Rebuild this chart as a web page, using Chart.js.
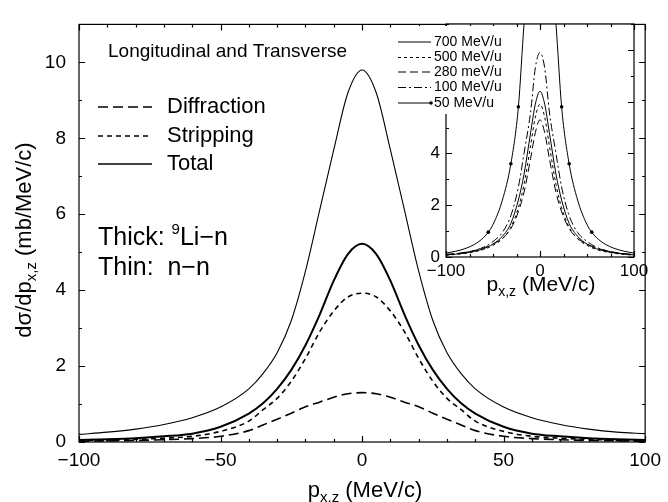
<!DOCTYPE html>
<html>
<head>
<meta charset="utf-8">
<script src="https://cdn.jsdelivr.net/npm/chart.js@4.4.1/dist/chart.umd.min.js"></script>
<style>
  html, body { margin: 0; padding: 0; background: #fff; }
  #wrap { position: relative; width: 668px; height: 502px; }
  #main { position: absolute; left: 0; top: 0; }
  #inset { position: absolute; left: 380px; top: 0; }
</style>
</head>
<body>
<div id="wrap">
  <canvas id="main" width="668" height="502"></canvas>
  <canvas id="inset" width="288" height="300"></canvas>
</div>
<script>
// main plot: p (MeV/c) and cross sections (mb/MeV/c)
const pMain = [-100, -90, -80, -70, -60, -50, -40, -35, -30, -25, -20, -15, -10, -5, 0,
               5, 10, 15, 20, 25, 30, 35, 40, 50, 60, 70, 80, 90, 100];
const totalThin = [0.20, 0.26, 0.34, 0.46, 0.64, 0.92, 1.40, 1.80, 2.35, 3.20, 4.50, 6.10, 7.70, 9.20, 9.80,
                   9.20, 7.70, 6.10, 4.50, 3.20, 2.35, 1.80, 1.40, 0.92, 0.64, 0.46, 0.34, 0.26, 0.22];
const totalThick = [0.05, 0.07, 0.10, 0.15, 0.22, 0.40, 0.75, 1.02, 1.40, 1.90, 2.55, 3.35, 4.25, 4.95, 5.22,
                    4.95, 4.25, 3.35, 2.55, 1.90, 1.40, 1.02, 0.75, 0.40, 0.22, 0.15, 0.10, 0.07, 0.05];
const stripping = [0.04, 0.05, 0.07, 0.10, 0.15, 0.28, 0.55, 0.85, 1.15, 1.60, 2.20, 2.90, 3.45, 3.82, 3.92,
                   3.82, 3.45, 2.90, 2.20, 1.60, 1.15, 0.85, 0.55, 0.28, 0.15, 0.10, 0.07, 0.05, 0.04];
const diffraction = [0.02, 0.03, 0.04, 0.06, 0.09, 0.15, 0.30, 0.45, 0.60, 0.76, 0.93, 1.05, 1.18, 1.27, 1.30,
                     1.27, 1.18, 1.05, 0.93, 0.76, 0.60, 0.45, 0.30, 0.15, 0.09, 0.06, 0.04, 0.03, 0.02];

// inset: energies
const pInset = [-100, -90, -80, -70, -60, -55, -50, -40, -31, -23, -17, -10, -5, 0,
                5, 10, 17, 23, 31, 40, 50, 55, 60, 70, 80, 90, 100];
const mev700 = [0.08, 0.11, 0.15, 0.22, 0.32, 0.40, 0.50, 0.80, 1.30, 2.20, 3.20, 4.80, 5.90, 6.40,
                5.90, 4.80, 3.20, 2.20, 1.30, 0.80, 0.50, 0.40, 0.32, 0.22, 0.15, 0.11, 0.08];
const mev500 = [0.07, 0.10, 0.14, 0.20, 0.29, 0.36, 0.45, 0.70, 1.15, 1.90, 2.80, 4.30, 5.40, 5.90,
                5.40, 4.30, 2.80, 1.90, 1.15, 0.70, 0.45, 0.36, 0.29, 0.20, 0.14, 0.10, 0.07];
const mev280 = [0.10, 0.13, 0.18, 0.25, 0.35, 0.42, 0.50, 0.72, 1.10, 1.75, 2.50, 3.80, 4.80, 5.30,
                4.80, 3.80, 2.50, 1.75, 1.10, 0.72, 0.50, 0.42, 0.35, 0.25, 0.18, 0.13, 0.10];
const mev100 = [0.09, 0.12, 0.17, 0.25, 0.38, 0.48, 0.60, 0.95, 1.60, 2.70, 4.00, 5.60, 7.30, 7.90,
                7.30, 5.60, 4.00, 2.70, 1.60, 0.95, 0.60, 0.48, 0.38, 0.25, 0.17, 0.12, 0.09];
const mev50 = [0.15, 0.22, 0.32, 0.48, 0.75, 0.96, 1.25, 2.20, 3.60, 5.80, 9.00, 12.0, 13.6, 14.2,
               13.6, 12.0, 9.00, 5.80, 3.60, 2.20, 1.25, 0.96, 0.75, 0.48, 0.32, 0.22, 0.15];
const mev50Dots = [-55, -31, -23, 23, 31, 55];

const mainTicksX = [-100, -50, 0, 50, 100];
const mainTicksY = [0, 2, 4, 6, 8, 10];
const insetLegend = ['700 MeV/u', '500 MeV/u', '280 meV/u', '100 MeV/u', '50 MeV/u'];

const FONT = 'Liberation Sans, Arial, Helvetica, sans-serif';
const minus = v => (v < 0 ? '\u2212' + Math.abs(v) : String(v));
const pts = (xs, ys) => xs.map((x, i) => ({ x: x, y: ys[i] }));

// frame with inward ticks on all four sides
const frameTicks = {
  id: 'frameTicks',
  afterDraw(chart, args, o) {
    const { ctx, chartArea: a, scales: { x, y } } = chart;
    ctx.save();
    ctx.strokeStyle = '#000';
    ctx.lineWidth = 1.2;
    ctx.strokeRect(a.left, a.top, a.right - a.left, a.bottom - a.top);
    ctx.beginPath();
    for (let v = x.min; v <= x.max + 1e-6; v += o.xMinor) {
      const px = Math.round(x.getPixelForValue(v)) + 0.5;
      const len = Math.abs(v % o.xMajor) < 1e-6 ? o.major : o.minor;
      ctx.moveTo(px, a.bottom); ctx.lineTo(px, a.bottom - len);
      ctx.moveTo(px, a.top); ctx.lineTo(px, a.top + len);
    }
    for (let v = y.min; v <= y.max + 1e-6; v += o.yMinor) {
      const py = Math.round(y.getPixelForValue(v)) + 0.5;
      const len = Math.abs(v % o.yMajor) < 1e-6 ? o.major : o.minor;
      ctx.moveTo(a.left, py); ctx.lineTo(a.left + len, py);
      ctx.moveTo(a.right, py); ctx.lineTo(a.right - len, py);
    }
    ctx.stroke();
    ctx.restore();
  }
};

// text with a subscript piece: parts = [[text, size, dy], ...]
function drawParts(ctx, parts, cx, cy) {
  let w = 0;
  parts.forEach(p => { ctx.font = p[1] + 'px ' + FONT; w += ctx.measureText(p[0]).width; });
  let x = cx - w / 2;
  ctx.textAlign = 'left';
  ctx.textBaseline = 'alphabetic';
  parts.forEach(p => {
    ctx.font = p[1] + 'px ' + FONT;
    ctx.fillText(p[0], x, cy + p[2]);
    x += ctx.measureText(p[0]).width;
  });
}

const mainText = {
  id: 'mainText',
  afterDraw(chart) {
    const ctx = chart.ctx;
    ctx.save();
    ctx.fillStyle = '#000';
    ctx.strokeStyle = '#000';
    ctx.textBaseline = 'middle';
    ctx.font = '19px ' + FONT;
    ctx.fillText('Longitudinal and Transverse', 108, 52);

    const leg = [['Diffraction', [10, 5], 1.6, 107], ['Stripping', [5, 4], 1.6, 136], ['Total', [], 1.6, 164]];
    leg.forEach(l => {
      ctx.beginPath();
      ctx.setLineDash(l[1]);
      ctx.lineWidth = l[2];
      ctx.moveTo(98, l[3]); ctx.lineTo(152, l[3]);
      ctx.stroke();
      ctx.setLineDash([]);
      ctx.font = '22px ' + FONT;
      ctx.textBaseline = 'middle';
      ctx.fillText(l[0], 167, l[3]);
    });

    ctx.textBaseline = 'alphabetic';
    ctx.font = '25px ' + FONT;
    let x = 98;
    ctx.fillText('Thick: ', x, 245);
    x += ctx.measureText('Thick: ').width;
    ctx.font = '15px ' + FONT;
    ctx.fillText('9', x, 234);
    x += ctx.measureText('9').width;
    ctx.font = '25px ' + FONT;
    ctx.fillText('Li\u2212n', x, 245);
    ctx.fillText('Thin:  n\u2212n', 98, 275);

    // axis titles
    drawParts(ctx, [['p', 22, 0], ['x,z', 15, 5], [' (MeV/c)', 22, 0]], 365, 497);
    ctx.translate(31, 240);
    ctx.rotate(-Math.PI / 2);
    drawParts(ctx, [['d\u03c3/dp', 22, 0], ['x,z', 15, 5], [' (mb/MeV/c)', 22, 0]], 0, 0);
    ctx.restore();
  }
};

new Chart(document.getElementById('main'), {
  type: 'line',
  data: {
    datasets: [
      { data: pts(pMain, totalThin), borderWidth: 1.1, borderDash: [] },
      { data: pts(pMain, totalThick), borderWidth: 2, borderDash: [] },
      { data: pts(pMain, stripping), borderWidth: 1.6, borderDash: [5, 4] },
      { data: pts(pMain, diffraction), borderWidth: 1.6, borderDash: [10, 5] }
    ].map(d => Object.assign(d, { borderColor: '#000', pointRadius: 0, fill: false, cubicInterpolationMode: 'monotone' }))
  },
  options: {
    responsive: false,
    animation: false,
    devicePixelRatio: 1,
    events: [],
    layout: { padding: { top: 11, right: 17, left: 0, bottom: 0 } },
    plugins: {
      legend: { display: false },
      tooltip: { enabled: false },
      frameTicks: { xMinor: 10, xMajor: 50, yMinor: 1, yMajor: 2, major: 6, minor: 3 }
    },
    scales: {
      x: {
        type: 'linear', min: -100, max: 100,
        afterFit(s) { s.height = 60; },
        afterBuildTicks(s) { s.ticks = mainTicksX.map(v => ({ value: v })); },
        grid: { display: false, drawTicks: false },
        border: { display: false },
        ticks: { font: { family: FONT, size: 19 }, color: '#000', padding: 7, maxRotation: 0, autoSkip: false, callback: minus }
      },
      y: {
        type: 'linear', min: 0, max: 11,
        afterFit(s) { s.width = 79; },
        afterBuildTicks(s) { s.ticks = mainTicksY.map(v => ({ value: v })); },
        grid: { display: false, drawTicks: false },
        border: { display: false },
        ticks: { font: { family: FONT, size: 19 }, color: '#000', padding: 13, callback: v => String(v) }
      }
    }
  },
  plugins: [frameTicks, mainText]
});

// inset
const insetTicksX = [-100, 0, 100];
const insetTicksY = [0, 2, 4, 6, 8];
const insetStyles = [
  { dash: [], dots: false },
  { dash: [3, 3], dots: false },
  { dash: [8, 4], dots: false },
  { dash: [8, 3, 2, 3], dots: false },
  { dash: [], dots: true }
];

const insetBg = {
  id: 'insetBg',
  beforeDraw(chart) {
    const { ctx, chartArea: a } = chart;
    ctx.save();
    ctx.fillStyle = '#fff';
    ctx.fillRect(a.left, a.top, a.right - a.left, a.bottom - a.top);
    ctx.restore();
  }
};

const insetText = {
  id: 'insetText',
  afterDraw(chart) {
    const ctx = chart.ctx;
    const ox = -380;
    ctx.save();
    // legend box covers the upper left of the inset
    ctx.fillStyle = '#fff';
    ctx.fillRect(393 + ox, 26, 113, 88);
    ctx.fillStyle = '#000';
    ctx.strokeStyle = '#000';
    const ys = [42, 57.5, 72, 87.5, 103];
    insetLegend.forEach((t, i) => {
      ctx.beginPath();
      ctx.setLineDash(insetStyles[i].dash);
      ctx.lineWidth = 1;
      ctx.moveTo(398 + ox, ys[i]); ctx.lineTo(431 + ox, ys[i]);
      ctx.stroke();
      ctx.setLineDash([]);
      if (insetStyles[i].dots) {
        ctx.beginPath(); ctx.arc(431 + ox, ys[i], 1.8, 0, Math.PI * 2); ctx.fill();
      }
      ctx.font = '14px ' + FONT;
      ctx.textBaseline = 'middle';
      ctx.textAlign = 'left';
      ctx.fillText(t, 434 + ox, ys[i]);
    });
    drawParts(ctx, [['p', 21, 0], ['x,z', 14, 5], [' (MeV/c)', 21, 0]], 541 + ox, 291);
    ctx.restore();
  }
};

new Chart(document.getElementById('inset'), {
  type: 'line',
  data: {
    datasets: [mev700, mev500, mev280, mev100, mev50].map((ys, i) => ({
      data: pts(pInset, ys),
      borderColor: '#000',
      backgroundColor: '#000',
      borderWidth: 1,
      borderDash: insetStyles[i].dash,
      pointRadius: insetStyles[i].dots ? pInset.map(p => (mev50Dots.includes(p) ? 1.8 : 0)) : 0,
      pointBorderWidth: 0,
      fill: false,
      cubicInterpolationMode: 'monotone'
    }))
  },
  options: {
    responsive: false,
    animation: false,
    devicePixelRatio: 1,
    events: [],
    layout: { padding: { top: 24, right: 34, left: 0, bottom: 0 } },
    plugins: {
      legend: { display: false },
      tooltip: { enabled: false },
      frameTicks: { xMinor: 25, xMajor: 100, yMinor: 1, yMajor: 2, major: 6, minor: 3 }
    },
    scales: {
      x: {
        type: 'linear', min: -100, max: 100,
        afterFit(s) { s.height = 43; },
        afterBuildTicks(s) { s.ticks = insetTicksX.map(v => ({ value: v })); },
        grid: { display: false, drawTicks: false },
        border: { display: false },
        ticks: { font: { family: FONT, size: 17 }, color: '#000', padding: 4, maxRotation: 0, autoSkip: false, callback: minus }
      },
      y: {
        type: 'linear', min: 0, max: 9,
        afterFit(s) { s.width = 66; },
        afterBuildTicks(s) { s.ticks = insetTicksY.map(v => ({ value: v })); },
        grid: { display: false, drawTicks: false },
        border: { display: false },
        ticks: { font: { family: FONT, size: 17 }, color: '#000', padding: 6, callback: v => String(v) }
      }
    }
  },
  plugins: [insetBg, frameTicks, insetText]
});
</script>
</body>
</html>
